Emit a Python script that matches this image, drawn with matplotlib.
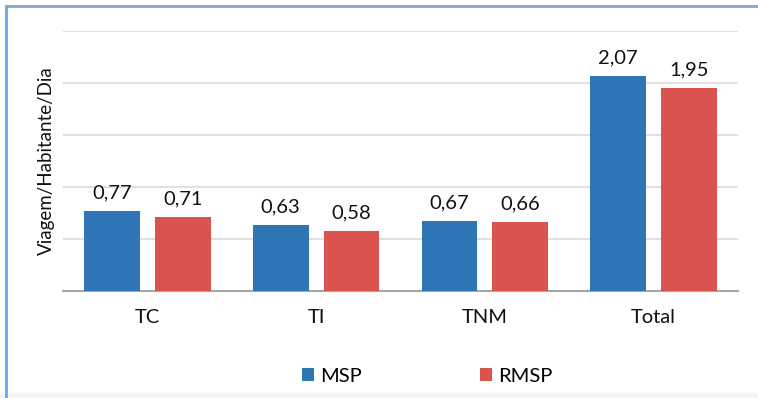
import matplotlib
matplotlib.use("Agg")
import matplotlib.pyplot as plt
import numpy as np
from matplotlib.lines import Line2D
from matplotlib.patches import Rectangle

categories = ["TC", "TI", "TNM", "Total"]
msp = [0.77, 0.63, 0.67, 2.07]
rmsp = [0.71, 0.58, 0.66, 1.95]
series_names = ["MSP", "RMSP"]
y_label = "Viagem/Habitante/Dia"

plt.rcParams["font.family"] = ["Lato", "DejaVu Sans"]

W, H = 758, 398
fig = plt.figure(figsize=(W / 100, H / 100), dpi=100)
ax = fig.add_axes([63 / W, 1 - 291 / H, (738 - 63) / W, (291 - 31) / H])

blue = "#2e75b6"
red = "#d9534f"
txt = "#111111"
fs = 14.5
x = np.arange(len(categories))
w = 0.33
off = 0.21
b1 = ax.bar(x - off, msp, w, color=blue, label=series_names[0], zorder=3)
b2 = ax.bar(x + off, rmsp, w, color=red, label=series_names[1], zorder=3)

for bars, vals in ((b1, msp), (b2, rmsp)):
    for rect, v in zip(bars, vals):
        ax.annotate(f"{v:.2f}".replace(".", ","),
                    (rect.get_x() + rect.get_width() / 2, v),
                    xytext=(0, 7), textcoords="offset points",
                    ha="center", va="bottom", fontsize=fs, color=txt)

ax.set_xlim(-0.5, len(categories) - 0.5)
ax.set_ylim(0, 2.5)
ax.set_yticks(np.arange(0, 2.51, 0.5))
ax.yaxis.grid(True, color="#d9d9d9", linewidth=1.2, zorder=0)
ax.tick_params(axis="y", left=False, labelleft=False)
ax.set_xticks(x)
ax.set_xticklabels(categories, fontsize=fs, color=txt)
ax.tick_params(axis="x", length=0, pad=13)
for s in ("top", "right", "left"):
    ax.spines[s].set_visible(False)
ax.spines["bottom"].set_color("#a6a6a6")
ax.spines["bottom"].set_linewidth(1.5)
ax.set_ylabel(y_label, fontsize=13.5, color=txt, labelpad=6)

leg = fig.legend(loc="center", bbox_to_anchor=(427 / W, 1 - 376 / H), ncol=2,
                 frameon=False, fontsize=fs, handlelength=0.6, handleheight=0.6,
                 handletextpad=0.3, columnspacing=5.85)

# outer frame: blue lines on the left and top, light strip along the bottom
fig.add_artist(Line2D([5.5 / W, 5.5 / W], [0, 1 - 6 / H], transform=fig.transFigure,
                      color="#6fa8dc", linewidth=2))
fig.add_artist(Line2D([5.5 / W, 1], [1 - 6 / H, 1 - 6 / H], transform=fig.transFigure,
                      color="#7ba7d0", linewidth=2))
fig.add_artist(Rectangle((0, 0), 1, 5 / H, transform=fig.transFigure,
                         color="#f4f4f4", zorder=-1))

fig.savefig("out.png", dpi=100)
